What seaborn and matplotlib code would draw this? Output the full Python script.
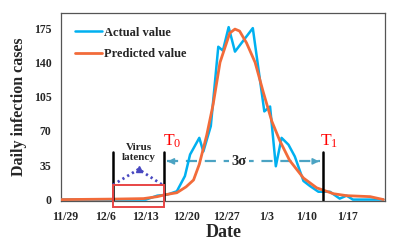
import numpy as np
import pandas as pd
import seaborn as sns
import matplotlib.pyplot as plt
from matplotlib.patches import Rectangle

# days counted from 11/29
tick_days = [0, 7, 14, 21, 28, 35, 42, 49]
tick_labels = ["11/29", "12/6", "12/13", "12/20", "12/27", "1/3", "1/10", "1/17"]
y_ticks = [0, 35, 70, 105, 140, 175]

actual_day = [-0.7, 8, 14, 15, 16, 17.7, 19.4, 20.8, 21.7, 23.3, 24.0, 25.3, 26.6,
              27.4, 28.4, 29.5, 32.6, 34.6, 35.6, 36.6, 37.6, 38.8, 39.9, 41.4,
              42.5, 44, 46, 47.7, 48.9, 50, 52.4, 55.3]
actual_val = [0, 0, 0, 2, 4, 5, 8.5, 24, 46, 63, 49, 75, 156,
              152, 176, 151, 175, 90, 95, 34, 63, 56, 44, 19,
              14, 8, 8, 1, 4, 0, 0, 0]

pred_day = [-0.7, 8.4, 13.6, 16, 17.4, 19.4, 21.0, 22.3, 23.3, 24.6, 25.7, 26.9,
            28.6, 29.5, 30.3, 31.5, 33, 34.4, 35.9, 37.3, 39, 41.4, 43.7, 46.6,
            48.9, 53, 55.3]
pred_val = [0, 0.5, 1, 3, 5, 7, 13, 20, 36, 66, 97, 140,
            170, 174, 172, 160, 140, 110, 80, 60, 40, 22, 12, 6,
            4, 3, 0]

latency_start = 8.3
t0_day = 17.2
t1_day = 44.8

actual = pd.DataFrame({"day": actual_day, "cases": actual_val})
pred = pd.DataFrame({"day": pred_day, "cases": pred_val})

sns.set_style("white")
plt.rcParams["font.family"] = ["Liberation Serif", "DejaVu Serif"]
plt.rcParams["mathtext.fontset"] = "custom"
plt.rcParams["mathtext.rm"] = "Liberation Serif"
plt.rcParams["mathtext.default"] = "rm"

fig, ax = plt.subplots(figsize=(4.08, 2.44), dpi=100)
fig.subplots_adjust(left=0.15, right=0.944, bottom=0.176, top=0.947)

sns.lineplot(data=actual, x="day", y="cases", color="#00B0F0", lw=1.8,
             label="Actual value", ax=ax, zorder=3)
sns.lineplot(data=pred, x="day", y="cases", color="#F26B3A", lw=2.0,
             label="Predicted value", ax=ax, zorder=4)

ax.set_xlim(-0.7, 55.6)
ax.set_ylim(-1.5, 190.5)
ax.set_xticks(tick_days)
ax.set_xticklabels(tick_labels)
ax.set_yticks(y_ticks)
ax.tick_params(axis="x", length=3, width=0.8, pad=4, labelsize=8.5, color="#404040")
ax.tick_params(axis="y", length=0, pad=7, labelsize=8.5)
for lab in ax.get_xticklabels() + ax.get_yticklabels():
    lab.set_fontweight("bold")
for sp in ax.spines.values():
    sp.set_color("#555555")
    sp.set_linewidth(0.9)

ax.set_xlabel("Date", fontsize=13, fontweight="bold", labelpad=1)
ax.set_ylabel("Daily infection cases", fontsize=11.5, fontweight="bold", labelpad=5)

leg = ax.legend(loc="upper left", frameon=False, handlelength=2.2,
                handletextpad=0.15, labelspacing=0.75, borderaxespad=0.7,
                prop={"weight": "bold", "size": 9})

# markers of the intervals
for d in (latency_start, t0_day, t1_day):
    ax.plot([d, d], [0, 49], color="black", lw=1.8, zorder=5)

ax.text(t0_day - 0.2, 51, r"T$_0$", color="red", fontsize=12.5, ha="left", va="bottom")
ax.text(t1_day - 0.5, 51, r"T$_1$", color="red", fontsize=12.5, ha="left", va="bottom")

# virus latency
apex = (latency_start + t0_day) / 2
ax.plot([latency_start, apex, t0_day - 0.3], [15, 31, 15], ls=(0, (0.8, 1.2)),
        color="#4848C0", lw=2.0, zorder=5)
ax.plot([apex], [31.5], marker="^", color="#4848C0", ms=4.5, zorder=5)
ax.text(apex + 0.1, 48, "Virus\nlatency", ha="center", va="center", fontsize=8,
        fontweight="bold", linespacing=1.15)
ax.add_patch(Rectangle((latency_start, -8), t0_day - latency_start, 22.5, fill=False,
                       edgecolor="#E84545", lw=1.4, clip_on=False, zorder=6))

# 3 sigma arrow
sig_col = "#4BA3C3"
ax.plot([t0_day + 0.5, t1_day - 0.6], [39, 39], ls=(0, (5, 3.5)), color=sig_col, lw=1.6,
        zorder=2)
ax.annotate("", xy=(t0_day + 0.1, 39), xytext=(t0_day + 1.5, 39),
            arrowprops=dict(arrowstyle="-|>", color=sig_col, lw=1.2, mutation_scale=9))
ax.annotate("", xy=(t1_day - 0.2, 39), xytext=(t1_day - 1.6, 39),
            arrowprops=dict(arrowstyle="-|>", color=sig_col, lw=1.2, mutation_scale=9))
ax.text(30.2, 39, "3σ", ha="center", va="center", fontsize=10.5, fontweight="bold",
        bbox=dict(facecolor="white", edgecolor="none", pad=2), zorder=2.5)

fig.savefig("out.png", dpi=100)
